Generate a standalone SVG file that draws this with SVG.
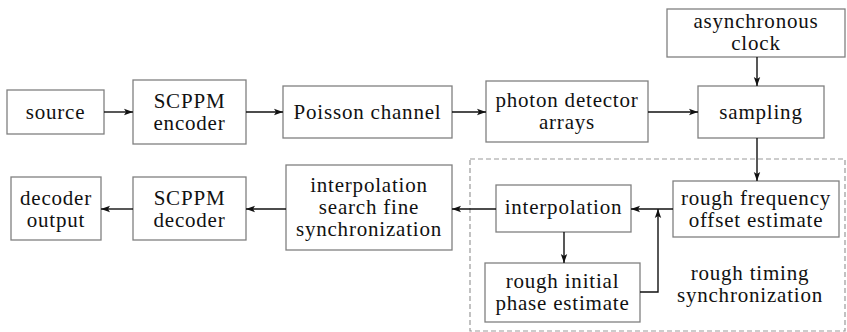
<svg xmlns="http://www.w3.org/2000/svg" width="847" height="332" viewBox="0 0 847 332">
<defs>
<marker id="ah" markerWidth="10" markerHeight="8" refX="9" refY="4" orient="auto" markerUnits="userSpaceOnUse">
<path d="M0,0.8 L9,4 L0,7.2 L2,4 Z" fill="#111"/>
</marker>
</defs>
<style>
.box{fill:#fff;stroke:#808080;stroke-width:1.3}
.t{font-family:'Liberation Serif','DejaVu Serif',serif;font-size:21px;letter-spacing:0.8px;fill:#111;text-anchor:middle}
.c{fill:none;stroke:#111;stroke-width:1.4}
.dash{fill:none;stroke:#999;stroke-width:1.2;stroke-dasharray:5,3}
</style>
<rect width="847" height="332" fill="#fff"/>
<rect id="group-rough" class="dash" x="470" y="159" width="375" height="172"/>
<g id="source"><rect class="box" x="7" y="90" width="97" height="44"/><text class="t" x="55.5" y="119">source</text></g>
<g id="encoder"><rect class="box" x="133" y="80" width="113" height="64"/><text class="t" x="189.5" y="107.5">SCPPM</text><text class="t" x="189.5" y="129.5">encoder</text></g>
<g id="channel"><rect class="box" x="283" y="86" width="169" height="52"/><text class="t" x="367.5" y="119">Poisson channel</text></g>
<g id="detector"><rect class="box" x="486" y="81" width="162" height="61"/><text class="t" x="567" y="106.5">photon detector</text><text class="t" x="567" y="128.5">arrays</text></g>
<g id="clock"><rect class="box" x="667" y="9" width="178" height="48"/><text class="t" x="756" y="27.5">asynchronous</text><text class="t" x="756" y="49.5">clock</text></g>
<g id="sampling"><rect class="box" x="698" y="86" width="126" height="52"/><text class="t" x="761" y="119">sampling</text></g>
<g id="freq"><rect class="box" x="673" y="181" width="166" height="56"/><text class="t" x="756" y="204.5">rough frequency</text><text class="t" x="756" y="226.5">offset estimate</text></g>
<g id="interp"><rect class="box" x="496" y="185" width="135" height="47"/><text class="t" x="563.5" y="214">interpolation</text></g>
<g id="phase"><rect class="box" x="485" y="263" width="155" height="59"/><text class="t" x="562.5" y="287.5">rough initial</text><text class="t" x="562.5" y="309.5">phase estimate</text></g>
<g id="fine"><rect class="box" x="286" y="165" width="166" height="85"/><text class="t" x="369" y="192">interpolation</text><text class="t" x="369" y="214">search fine</text><text class="t" x="369" y="236">synchronization</text></g>
<g id="decoder"><rect class="box" x="133" y="177" width="113" height="63"/><text class="t" x="189.5" y="204.5">SCPPM</text><text class="t" x="189.5" y="226.5">decoder</text></g>
<g id="output"><rect class="box" x="11" y="177" width="90" height="63"/><text class="t" x="56" y="204.5">decoder</text><text class="t" x="56" y="226.5">output</text></g>
<g id="label-rough"><text class="t" x="750" y="279.5">rough timing</text><text class="t" x="750" y="301.5">synchronization</text></g>
<g id="connectors">
<line class="c" x1="104" y1="112" x2="133" y2="112" marker-end="url(#ah)"/>
<line class="c" x1="246" y1="112" x2="283" y2="112" marker-end="url(#ah)"/>
<line class="c" x1="452" y1="112" x2="486" y2="112" marker-end="url(#ah)"/>
<line class="c" x1="648" y1="112" x2="698" y2="112" marker-end="url(#ah)"/>
<line class="c" x1="757" y1="57" x2="757" y2="86" marker-end="url(#ah)"/>
<line class="c" x1="757" y1="138" x2="757" y2="181" marker-end="url(#ah)"/>
<line class="c" x1="673" y1="209" x2="631" y2="209" marker-end="url(#ah)"/>
<line class="c" x1="564" y1="232" x2="564" y2="263" marker-end="url(#ah)"/>
<polyline class="c" points="640,292 658,292 658,209" marker-end="url(#ah)"/>
<line class="c" x1="496" y1="209" x2="452" y2="209" marker-end="url(#ah)"/>
<line class="c" x1="286" y1="209" x2="246" y2="209" marker-end="url(#ah)"/>
<line class="c" x1="133" y1="209" x2="101" y2="209" marker-end="url(#ah)"/>
</g>
</svg>
